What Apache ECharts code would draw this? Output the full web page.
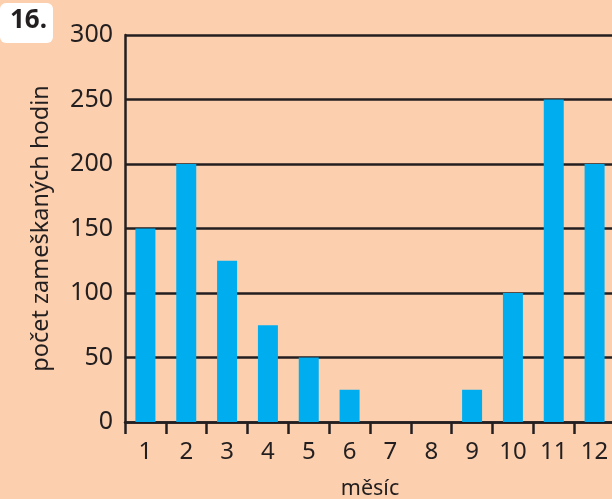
<!DOCTYPE html>
<html>
<head>
<meta charset="utf-8">
<script src="https://cdn.jsdelivr.net/npm/echarts@6/dist/echarts.min.js"></script>
<style>
html,body{margin:0;padding:0;background:#FCD0AE;}
#c{width:612px;height:499px;}
</style>
</head>
<body>
<div id="c"></div>
<script>
const categories = ['1','2','3','4','5','6','7','8','9','10','11','12'];
const hours = [150, 200, 125, 75, 50, 25, 0, 0, 25, 100, 250, 200];
const yTicks = [0, 50, 100, 150, 200, 250, 300];

const ink = '#231F20';
const font = 'Noto Sans';
const chart = echarts.init(document.getElementById('c'), null, {renderer:'canvas'});
chart.setOption({
  backgroundColor: '#FCD0AE',
  animation: false,
  textStyle: {fontFamily: font, color: ink},
  grid: {left: 125, top: 35, width: 490, height: 387, outerBoundsMode: 'none', containLabel: false},
  xAxis: {
    type: 'category',
    data: categories,
    boundaryGap: true,
    name: 'měsíc',
    nameLocation: 'middle',
    nameGap: 56,
    nameTextStyle: {fontFamily: font, fontSize: 21.5, color: ink},
    axisLine: {show: true, lineStyle: {color: ink, width: 2.5}},
    axisTick: {show: true, length: 12, lineStyle: {color: ink, width: 2.5}},
    axisLabel: {fontFamily: font, fontSize: 24, color: ink, margin: 18},
    splitLine: {show: false}
  },
  yAxis: {
    type: 'value',
    min: yTicks[0],
    max: yTicks[yTicks.length - 1],
    interval: 50,
    name: 'počet zameškaných hodin',
    nameLocation: 'middle',
    nameGap: 72,
    nameTextStyle: {fontFamily: font, fontSize: 23.5, color: ink},
    axisLine: {show: true, lineStyle: {color: ink, width: 2.5}},
    axisTick: {show: false},
    axisLabel: {fontFamily: font, fontSize: 25, color: ink, margin: 12},
    splitLine: {show: true, lineStyle: {color: ink, width: 2.5}}
  },
  series: [{
    type: 'bar',
    data: hours,
    barWidth: 20,
    itemStyle: {color: '#00AEEF'},
    z: 3
  }],
  graphic: [
    {type: 'rect', left: 0, top: 3, shape: {width: 53, height: 40, r: 6}, style: {fill: '#FFFFFF'}},
    {type: 'text', left: 10, top: 8, style: {text: '16.', fontFamily: font, fontWeight: 'bold', fontSize: 26, fill: ink}}
  ]
});
</script>
</body>
</html>
